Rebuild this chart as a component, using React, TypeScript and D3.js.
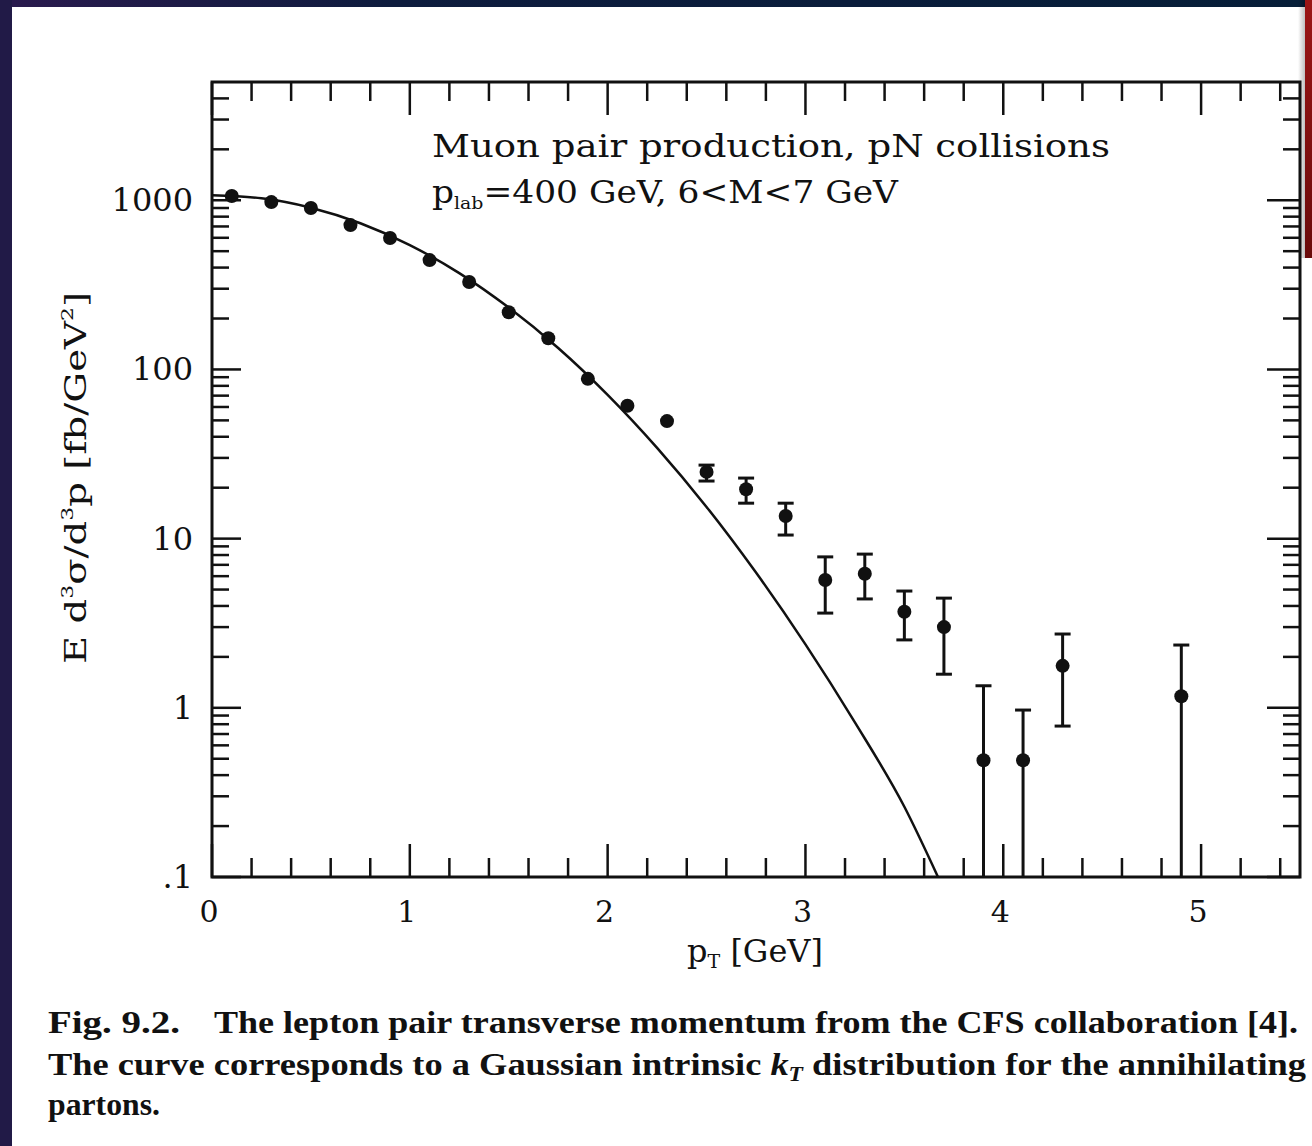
import React from 'react';
import * as d3 from 'd3';

const W = 1312;
const H = 1146;

// measured data points (pT bin centres, GeV) and cross sections (fb/GeV^2)
const pt = [0.1, 0.3, 0.5, 0.7, 0.9, 1.1, 1.3, 1.5, 1.7, 1.9, 2.1, 2.3, 2.5, 2.7, 2.9, 3.1, 3.3, 3.5, 3.7, 3.9, 4.1, 4.3, 4.9];
const sigma = [1060, 975, 900, 713, 598, 443, 329, 218, 153, 88, 61, 49.5, 24.8, 19.6, 13.6, 5.7, 6.2, 3.7, 3.0, 0.49, 0.49, 1.77, 1.17];
const errHi: (number | null)[] = [null, null, null, null, null, null, null, null, null, null, null, null, 27.2, 22.8, 16.2, 7.8, 8.1, 4.9, 4.45, 1.35, 0.97, 2.73, 2.35];
const errLo: (number | null)[] = [null, null, null, null, null, null, null, null, null, null, null, null, 21.9, 16.2, 10.5, 3.63, 4.4, 2.52, 1.58, 0.1, 0.1, 0.78, 0.1];

// theory curve
const curvePt = [0, 0.25, 0.5, 0.75, 1.0, 1.25, 1.5, 1.75, 2.0, 2.25, 2.5, 2.75, 3.0, 3.25, 3.5, 3.67];
const curveVal = [1070, 1028, 904, 731, 543, 371, 232, 134, 70.8, 34.4, 15.4, 6.3, 2.37, 0.82, 0.26, 0.1];

const xTickValues = [0, 1, 2, 3, 4, 5];
const xTickLabels = ['0', '1', '2', '3', '4', '5'];
const yTickValues = [0.1, 1, 10, 100, 1000];
const yTickLabels = ['.1', '1', '10', '100', '1000'];

const serif = "'DejaVu Serif', serif";
const capSerif = "'Liberation Serif', serif";

export default function App() {
  const L = 212, R = 1300, T = 82, B = 877;
  const x = d3.scaleLinear().domain([0, 5.5]).range([L, R]);
  const y = d3.scaleLog().domain([0.1, 5000]).range([B, T]);

  const xMinor: number[] = [];
  for (let i = 1; i < 28; i++) {
    const v = i * 0.2;
    if (Math.abs(v - Math.round(v)) > 1e-6 && v < 5.5) xMinor.push(v);
  }
  const yMinor: number[] = [];
  for (let d = -1; d <= 3; d++) {
    for (let k = 2; k <= 9; k++) {
      const v = k * Math.pow(10, d);
      if (v < 5000) yMinor.push(v);
    }
  }

  const line = d3.line<number>()
    .x((_, i) => x(curvePt[i]))
    .y((v) => y(v))
    .curve(d3.curveMonotoneX);

  const major = 33, minor = 17;
  const sw = 3;

  return (
    <svg width={W} height={H} style={{ position: 'absolute', left: 0, top: 0, background: '#fff' }}>
      <defs>
        <linearGradient id="topband" x1="0" x2="1" y1="0" y2="0">
          <stop offset="0" stopColor="#2a1a4e" />
          <stop offset="0.3" stopColor="#0e1c3e" />
          <stop offset="1" stopColor="#061e38" />
        </linearGradient>
        <linearGradient id="redbar" x1="0" x2="0" y1="0" y2="1">
          <stop offset="0" stopColor="#9b1616" />
          <stop offset="1" stopColor="#6a0b0b" />
        </linearGradient>
        <linearGradient id="redshadow" x1="0" x2="1" y1="0" y2="0">
          <stop offset="0" stopColor="#000" stopOpacity="0" />
          <stop offset="1" stopColor="#000" stopOpacity="0.25" />
        </linearGradient>
        <clipPath id="plotclip">
          <rect x={L} y={T} width={R - L} height={B - T} />
        </clipPath>
      </defs>
      <rect x={0} y={0} width={W} height={H} fill="#ffffff" />
      {/* scan borders */}
      <rect x={0} y={0} width={W} height={7} fill="url(#topband)" />
      <rect x={0} y={0} width={12} height={H} fill="#211a47" />

      {/* frame */}
      <rect x={L} y={T} width={R - L} height={B - T} fill="none" stroke="#111" strokeWidth={sw} />

      {/* x ticks bottom/top */}
      {xTickValues.map((v) => (
        <g key={'xM' + v}>
          <line x1={x(v)} x2={x(v)} y1={B} y2={B - major} stroke="#111" strokeWidth={2.5} />
          <line x1={x(v)} x2={x(v)} y1={T} y2={T + major} stroke="#111" strokeWidth={2.5} />
        </g>
      ))}
      {xMinor.map((v) => (
        <g key={'xm' + v}>
          <line x1={x(v)} x2={x(v)} y1={B} y2={B - minor - 2} stroke="#111" strokeWidth={2.5} />
          <line x1={x(v)} x2={x(v)} y1={T} y2={T + minor + 2} stroke="#111" strokeWidth={2.5} />
        </g>
      ))}
      {/* y ticks left/right */}
      {yTickValues.map((v) => (
        <g key={'yM' + v}>
          <line x1={L} x2={L + major - 4} y1={y(v)} y2={y(v)} stroke="#111" strokeWidth={2.5} />
          <line x1={R} x2={R - major} y1={y(v)} y2={y(v)} stroke="#111" strokeWidth={2.5} />
        </g>
      ))}
      {yMinor.map((v) => (
        <g key={'ym' + v}>
          <line x1={L} x2={L + minor} y1={y(v)} y2={y(v)} stroke="#111" strokeWidth={2.5} />
          <line x1={R} x2={R - minor} y1={y(v)} y2={y(v)} stroke="#111" strokeWidth={2.5} />
        </g>
      ))}

      {/* tick labels */}
      {xTickValues.map((v, i) => (
        <text key={'xl' + v} x={x(v) - 3} y={922} fontFamily={serif} fontSize={30} textAnchor="middle" fill="#111">
          {xTickLabels[i]}
        </text>
      ))}
      {yTickValues.map((v, i) => (
        <text key={'yl' + v} x={193} y={y(v) + 11} fontFamily={serif} fontSize={32} textAnchor="end" fill="#111">
          {yTickLabels[i]}
        </text>
      ))}

      {/* axis titles */}
      <text x={755} y={962} fontFamily={serif} fontSize={32} textAnchor="middle" fill="#111">
        p<tspan fontSize={19} dy={6}>T</tspan><tspan dy={-6}> [GeV]</tspan>
      </text>
      <text transform="translate(86,478) rotate(-90)" fontFamily={serif} fontSize={30} textAnchor="middle" fill="#111" textLength={372} lengthAdjust="spacingAndGlyphs">
        E d<tspan fontSize={17} dy={-13}>3</tspan><tspan dy={13}>σ/d</tspan><tspan fontSize={17} dy={-13}>3</tspan><tspan dy={13}>p  [fb/GeV</tspan><tspan fontSize={17} dy={-13}>2</tspan><tspan dy={13}>]</tspan>
      </text>

      {/* annotation */}
      <text x={432} y={157} fontFamily={serif} fontSize={31} fill="#111" textLength={678} lengthAdjust="spacingAndGlyphs">
        Muon pair production, pN collisions
      </text>
      <text x={432} y={203} fontFamily={serif} fontSize={31} fill="#111" textLength={466} lengthAdjust="spacingAndGlyphs">
        p<tspan fontSize={17} dy={6}>lab</tspan><tspan dy={-6}>=400  GeV,  6&lt;M&lt;7  GeV</tspan>
      </text>

      {/* curve */}
      <g clipPath="url(#plotclip)">
        <path d={line(curveVal) || ''} fill="none" stroke="#111" strokeWidth={2.5} />
      </g>

      {/* error bars */}
      {pt.map((p, i) => {
        const hi = errHi[i];
        const lo = errLo[i];
        if (hi == null || lo == null) return null;
        const cx = x(p);
        const yh = y(hi);
        const yl = y(lo);
        return (
          <g key={'e' + p}>
            <line x1={cx} x2={cx} y1={yh} y2={yl} stroke="#111" strokeWidth={3} />
            <line x1={cx - 8} x2={cx + 8} y1={yh} y2={yh} stroke="#111" strokeWidth={3} />
            {lo > 0.1 && <line x1={cx - 8} x2={cx + 8} y1={yl} y2={yl} stroke="#111" strokeWidth={3} />}
          </g>
        );
      })}
      {/* markers */}
      {pt.map((p, i) => (
        <circle key={'m' + p} cx={x(p)} cy={y(sigma[i])} r={7} fill="#111" />
      ))}

      {/* caption */}
      <text x={48} y={1033} fontFamily={capSerif} fontWeight="bold" fontSize={31} fill="#111" textLength={132} lengthAdjust="spacingAndGlyphs">
        Fig. 9.2.
      </text>
      <text x={214} y={1033} fontFamily={capSerif} fontWeight="bold" fontSize={31} fill="#111" textLength={1084} lengthAdjust="spacingAndGlyphs">
        The lepton pair transverse momentum from the CFS collaboration [4].
      </text>
      <text x={48} y={1075} fontFamily={capSerif} fontWeight="bold" fontSize={31} fill="#111" textLength={1258} lengthAdjust="spacingAndGlyphs">
        The curve corresponds to a Gaussian intrinsic <tspan fontStyle="italic">k</tspan><tspan fontStyle="italic" fontSize={20} dy={6}>T</tspan><tspan dy={-6}> distribution for the annihilating</tspan>
      </text>
      <text x={48} y={1115} fontFamily={capSerif} fontWeight="bold" fontSize={31} fill="#111" textLength={112} lengthAdjust="spacingAndGlyphs">
        partons.
      </text>

      {/* red bar at right edge */}
      <rect x={1298} y={0} width={7} height={258} fill="url(#redshadow)" />
      <rect x={1305} y={0} width={7} height={258} fill="url(#redbar)" />
    </svg>
  );
}
